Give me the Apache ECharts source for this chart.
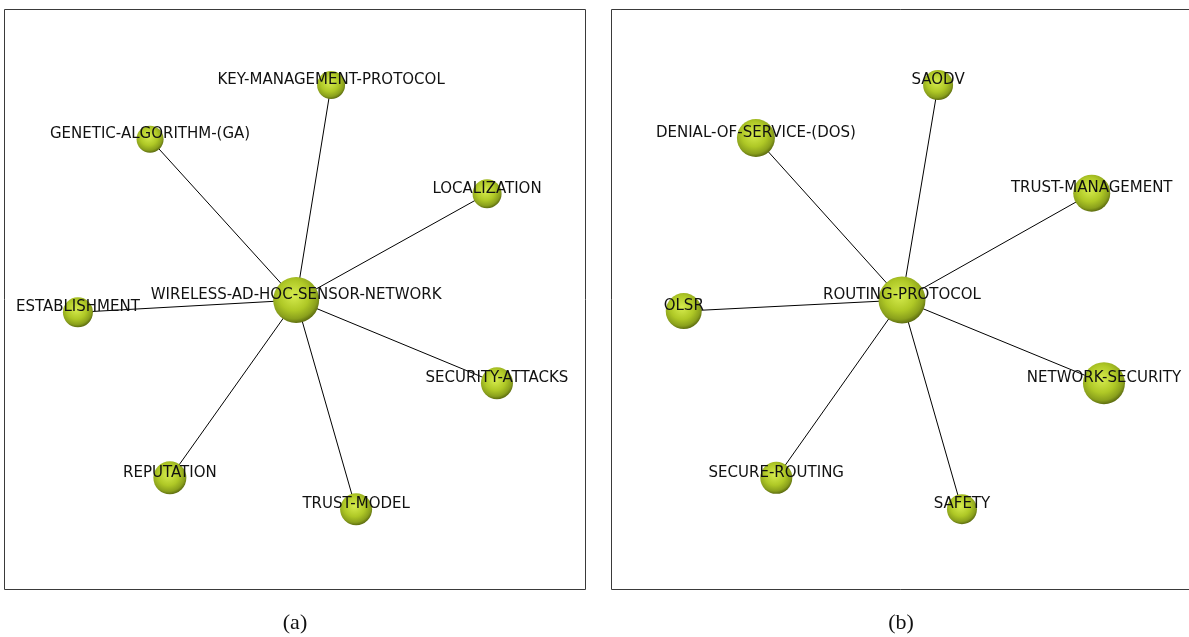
<!DOCTYPE html>
<html>
<head>
<meta charset="utf-8">
<script src="https://cdn.jsdelivr.net/npm/echarts@6/dist/echarts.min.js"></script>
<style>
  html, body { margin: 0; padding: 0; background: #ffffff; }
  #chart { width: 1189px; height: 637px; }
</style>
</head>
<body>
<div id="chart"></div>
<script>
// Panel (a): keyword co-occurrence around WIRELESS-AD-HOC-SENSOR-NETWORK
const termsA = ['WIRELESS-AD-HOC-SENSOR-NETWORK', 'KEY-MANAGEMENT-PROTOCOL', 'GENETIC-ALGORITHM-(GA)',
  'LOCALIZATION', 'ESTABLISHMENT', 'SECURITY-ATTACKS', 'REPUTATION', 'TRUST-MODEL'];
const layoutXA = [50.2, 56.2, 25.1, 83.0, 12.7, 84.7, 28.5, 60.5];
const layoutYA = [49.9, 86.9, 77.6, 68.2, 47.8, 35.6, 19.3, 13.9];
const weightA = [17, 8, 7.5, 8.5, 9, 10, 10.5, 10];

// Panel (b): keyword co-occurrence around ROUTING-PROTOCOL
const termsB = ['ROUTING-PROTOCOL', 'SAODV', 'DENIAL-OF-SERVICE-(DOS)', 'TRUST-MANAGEMENT',
  'OLSR', 'NETWORK-SECURITY', 'SECURE-ROUTING', 'SAFETY'];
const layoutXB = [50.0, 56.2, 24.9, 82.6, 12.5, 84.7, 28.4, 60.3];
const layoutYB = [49.9, 86.9, 77.8, 68.3, 48.0, 35.6, 19.3, 13.9];
const weightB = [17.5, 9, 13, 12.5, 12, 15, 10, 9];

const captions = ['(a)', '(b)'];

function sizeOf(w) { return 12 + 2 * w; }

const ballColor = {
  type: 'radial', x: 0.45, y: 0.4, r: 0.6,
  colorStops: [
    { offset: 0, color: '#d6ec4e' },
    { offset: 0.55, color: '#afc826' },
    { offset: 0.85, color: '#8aa01c' },
    { offset: 1, color: '#5e6e10' }
  ]
};

function buildSeries(terms, xs, ys, ws, idx) {
  return {
    type: 'graph',
    coordinateSystem: 'cartesian2d',
    xAxisIndex: idx,
    yAxisIndex: idx,
    silent: true,
    animation: false,
    data: terms.map((t, i) => ({
      name: t,
      value: [xs[i], ys[i]],
      symbolSize: sizeOf(ws[i])
    })),
    links: terms.slice(1).map((t, i) => ({ source: 0, target: i + 1 })),
    itemStyle: { color: ballColor },
    lineStyle: { color: '#000000', width: 1, opacity: 1, curveness: 0 },
    label: {
      show: true,
      position: 'inside',
      offset: [0, -5],
      color: '#111111',
      fontFamily: 'DejaVu Sans',
      fontSize: 15,
      formatter: '{b}'
    },
    z: 3
  };
}

// Panel frames: both 582 px wide; the right one runs past the page edge,
// so its plotting area stops at the edge and its x range is cut to match.
const panelW = 582;
const pageW = 1189;
const rightLeft = 611;
const rightVisible = pageW - rightLeft;

const grids = [
  { left: 4, top: 9, width: panelW, height: 581 },
  { left: rightLeft, top: 9, width: rightVisible, height: 581 }
];
const xMax = [100, 100 * rightVisible / panelW];

const frame = (x) => ({
  type: 'rect',
  silent: true,
  z: 0,
  shape: { x: x + 0.5, y: 9.5, width: panelW - 1, height: 580 },
  style: { fill: null, stroke: '#3a3a3a', lineWidth: 1 }
});

const chart = echarts.init(document.getElementById('chart'), null, { renderer: 'canvas' });
chart.setOption({
  backgroundColor: '#ffffff',
  animation: false,
  title: captions.map((c, i) => ({
    text: c,
    left: i === 0 ? 290 : 896,
    top: 607,
    textAlign: 'center',
    textStyle: { fontFamily: 'Liberation Serif', fontSize: 22, fontWeight: 'normal', color: '#111111' }
  })),
  graphic: [frame(4), frame(rightLeft)],
  grid: grids.map(g => Object.assign({ show: false }, g)),
  xAxis: [0, 1].map(i => ({ type: 'value', gridIndex: i, min: 0, max: xMax[i], show: false })),
  yAxis: [0, 1].map(i => ({ type: 'value', gridIndex: i, min: 0, max: 100, show: false })),
  series: [
    buildSeries(termsA, layoutXA, layoutYA, weightA, 0),
    buildSeries(termsB, layoutXB, layoutYB, weightB, 1)
  ]
});
</script>
</body>
</html>
